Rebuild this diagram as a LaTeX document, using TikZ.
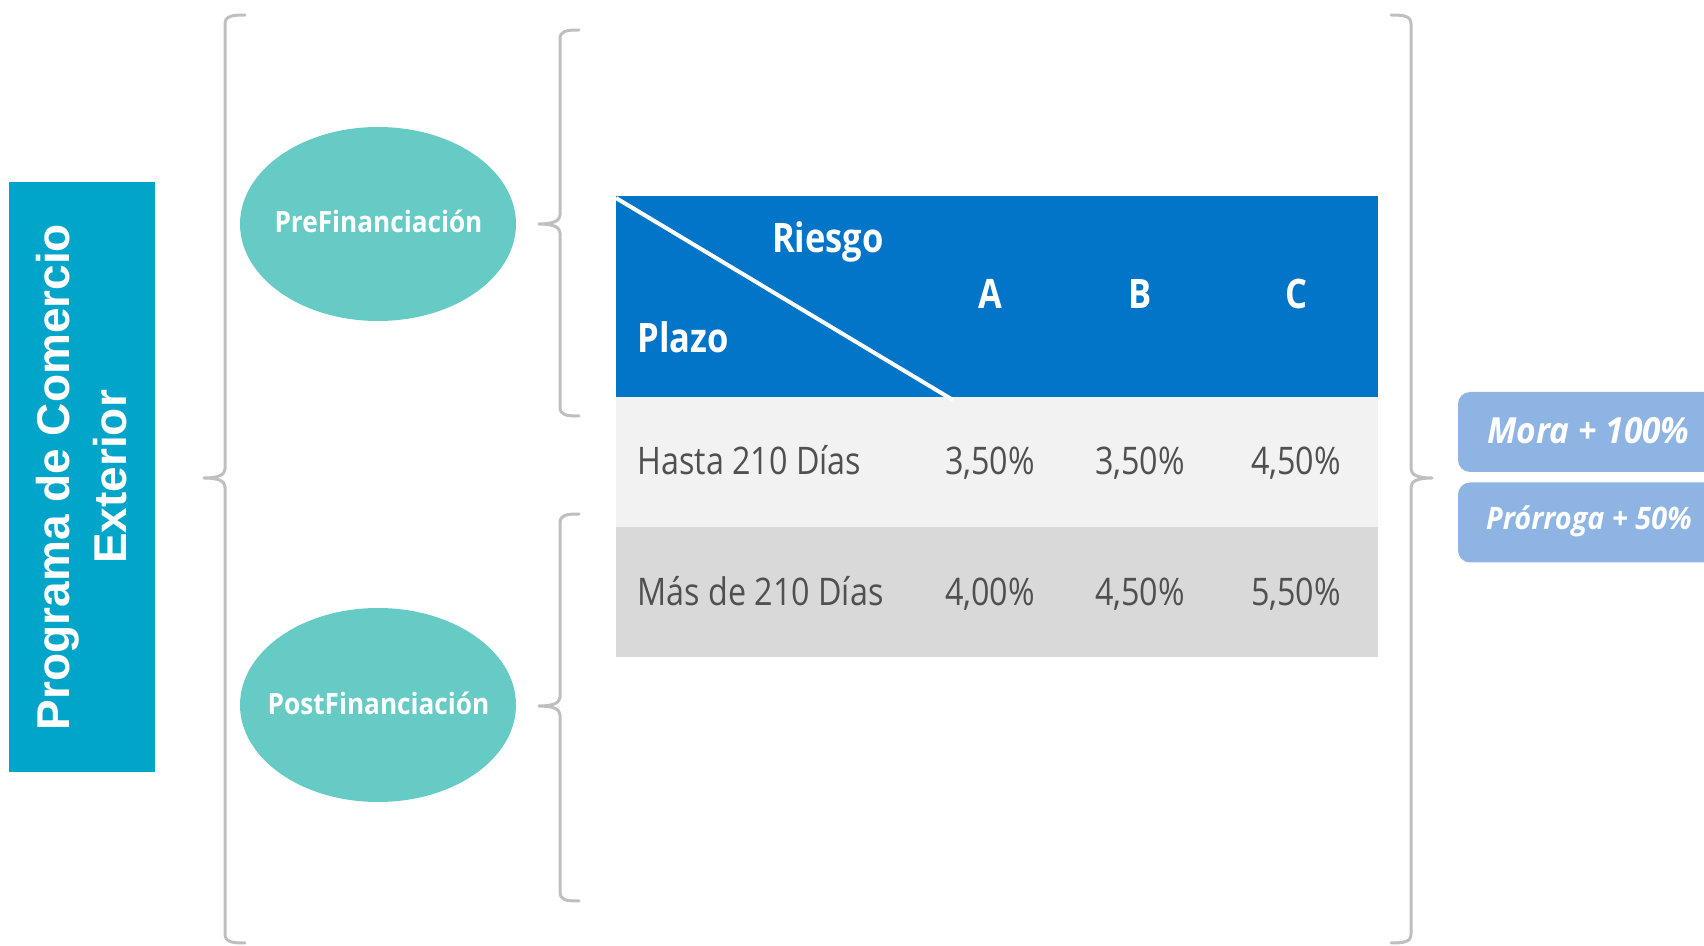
\documentclass[tikz,border=0pt]{standalone}
\usepackage{fontspec}
\setmainfont{Liberation Sans}
\newfontfamily\cond[FakeStretch=0.85]{Open Sans}
\newfontfamily\ovalfont[FakeStretch=0.89]{Open Sans}
\newfontfamily\semi[FakeStretch=0.93]{Open Sans}
\usetikzlibrary{shapes.geometric}
\definecolor{titleblue}{RGB}{0,165,201}
\definecolor{ovalteal}{RGB}{102,203,197}
\definecolor{headblue}{RGB}{3,117,201}
\definecolor{rowlight}{RGB}{242,242,242}
\definecolor{rowdark}{RGB}{217,217,217}
\definecolor{celltext}{RGB}{80,80,80}
\definecolor{bracegray}{RGB}{191,191,191}
\definecolor{tagblue}{RGB}{142,180,227}
\tikzset{
  brace/.style={draw=bracegray, line width=1.5pt, line join=round, line cap=round},
  oval/.style={ellipse, fill=ovalteal, minimum width=138pt, minimum height=97pt, inner sep=0pt},
  ovaltxt/.style={anchor=base, inner sep=0pt, text=white, font=\ovalfont\bfseries\fontsize{14.7}{17}\selectfont},
  headtxt/.style={anchor=base, text=white, font=\cond\bfseries\fontsize{20.3}{24}\selectfont, inner sep=0pt},
  celltxt/.style={anchor=base, text=celltext, font=\cond\fontsize{19}{22}\selectfont, inner sep=0pt},
  tagbox/.style={fill=tagblue, rounded corners=6pt, inner sep=0pt, minimum width=131pt, minimum height=40pt},
  tagtxt/.style={anchor=base, text=white, inner sep=0pt}
}
\begin{document}
\begin{tikzpicture}[x=0.5pt,y=-0.5pt]
\useasboundingbox (0,0) rectangle (1704,946);
% title box
\node[fill=titleblue, minimum width=73.3pt, minimum height=294.5pt, inner sep=0pt] (title) at (82,477) {};
\node[rotate=90, align=center, text=white, font=\bfseries\fontsize{23}{28.5}\selectfont] (titletext) at (title.center) {Programa de Comercio\\Exterior};
% ovals
\node[oval] (pre) at (378,224) {};
\node[oval] (post) at (378,705) {};
\node[ovaltxt] (pretxt) at (378.5,233) {PreFinanciación};
\node[ovaltxt] (posttxt) at (378.5,714) {PostFinanciación};
% braces
\draw[brace] (245,15) .. controls (232,15) and (225,16) .. (225,24) -- (225,469) .. controls (225,475) and (218,478) .. (204,478) .. controls (218,478) and (225,481) .. (225,487) -- (225,934) .. controls (225,942) and (232,943) .. (245,943);
\draw[brace] (579,30) .. controls (566,30) and (560,31) .. (560,39) -- (560,215) .. controls (560,221) and (553,224) .. (539,224) .. controls (553,224) and (560,227) .. (560,233) -- (560,407) .. controls (560,415) and (566,416) .. (579,416);
\draw[brace] (579,514) .. controls (566,514) and (560,515) .. (560,523) -- (560,697) .. controls (560,703) and (553,706) .. (539,706) .. controls (553,706) and (560,709) .. (560,715) -- (560,892) .. controls (560,900) and (566,901) .. (579,901);
\draw[brace] (1391,15) .. controls (1404,15) and (1411,16) .. (1411,24) -- (1411,469) .. controls (1411,475) and (1418,478) .. (1432,478) .. controls (1418,478) and (1411,481) .. (1411,487) -- (1411,934) .. controls (1411,942) and (1404,943) .. (1391,943);
% table
\fill[headblue] (616,196) rectangle (1378,397);
\fill[rowlight] (616,397) rectangle (1378,527);
\fill[rowdark] (616,527) rectangle (1378,657);
\draw[white, line width=2pt] (616,198) -- (953,400);
\node[headtxt] (riesgo) at (828,253) {Riesgo};
\node[headtxt, anchor=base west] (plazo) at (637,353) {Plazo};
\node[headtxt] (ca) at (990,309) {A};
\node[headtxt] (cb) at (1140,309) {B};
\node[headtxt] (cc) at (1296,309) {C};
\node[celltxt, anchor=base west] (r1) at (637,475) {Hasta 210 Días};
\node[celltxt] (r1a) at (990,475) {3,50\%};
\node[celltxt] (r1b) at (1140,475) {3,50\%};
\node[celltxt] (r1c) at (1296,475) {4,50\%};
\node[celltxt, anchor=base west] (r2) at (637,606) {Más de 210 Días};
\node[celltxt] (r2a) at (990,606) {4,00\%};
\node[celltxt] (r2b) at (1140,606) {4,50\%};
\node[celltxt] (r2c) at (1296,606) {5,50\%};
% tags
\node[tagbox] (mora) at (1589,432) {};
\node[tagbox] (prorroga) at (1589,522.5) {};
\node[tagtxt, font=\semi\bfseries\itshape\fontsize{18}{21}\selectfont] (moratxt) at (1588.5,444) {Mora + 100\%};
\node[tagtxt, font=\semi\bfseries\itshape\fontsize{15.5}{18}\selectfont] (prortxt) at (1589,530) {Prórroga + 50\%};
\end{tikzpicture}
\end{document}
